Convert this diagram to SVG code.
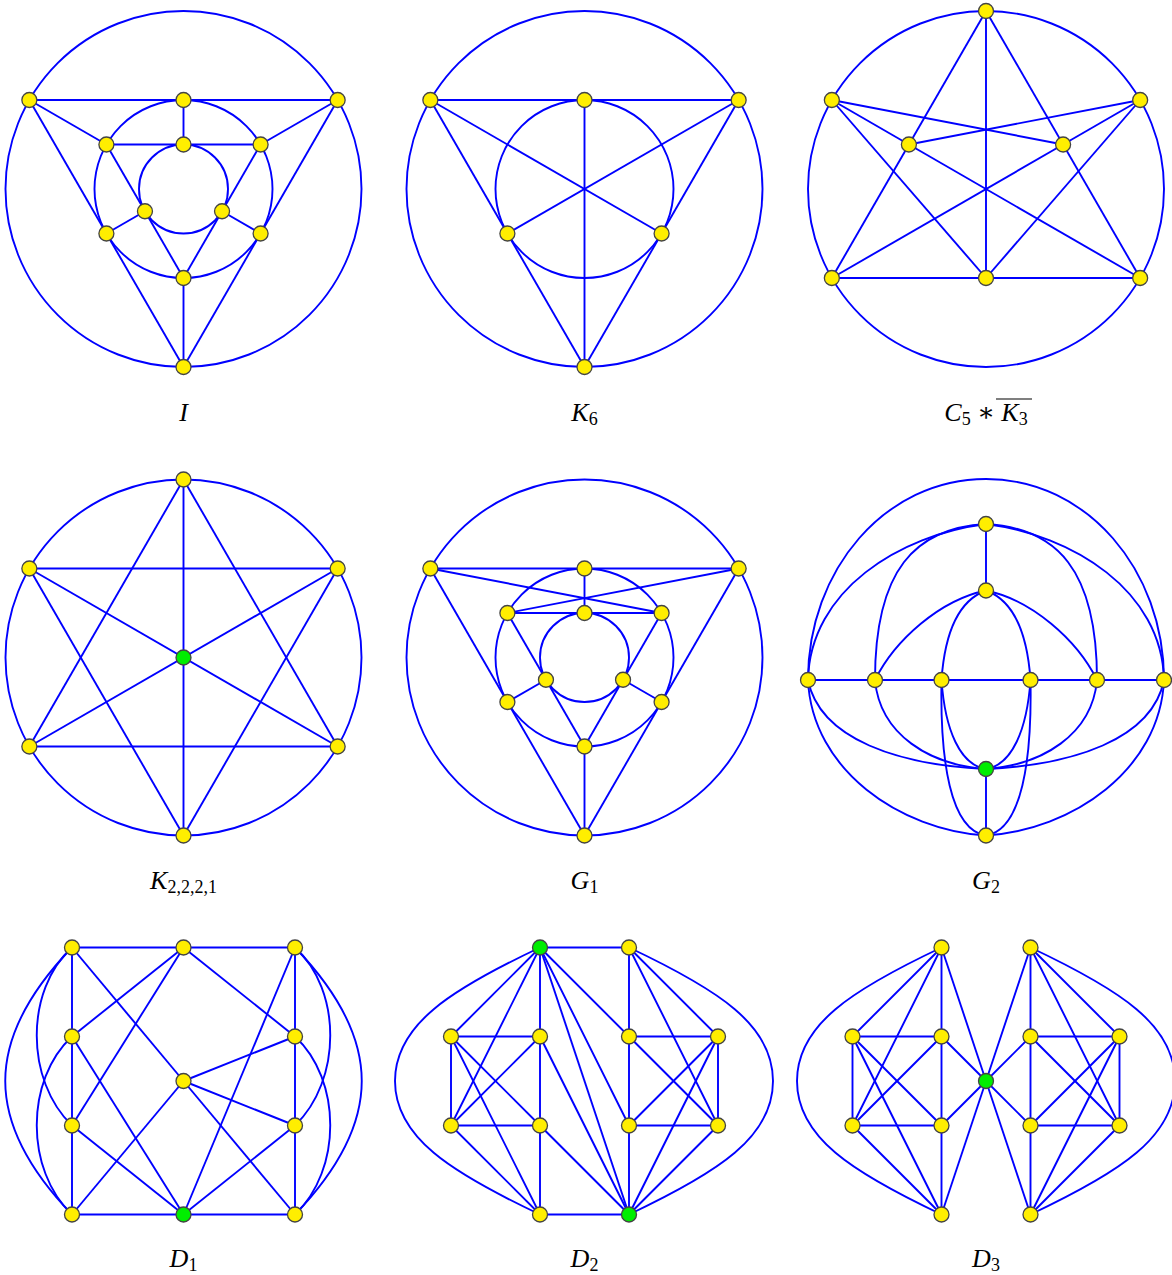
<svg xmlns="http://www.w3.org/2000/svg" width="1172" height="1275" viewBox="0 0 1172 1275">
<style>
.e{fill:none;stroke:#0000ff;stroke-width:1.9}
.n{fill:#ffee00;stroke:#444;stroke-width:1.3}
.g{fill:#00ee00;stroke:#444;stroke-width:1.3}
.lbl{font-family:"Liberation Serif","DejaVu Serif",serif;font-size:26px;fill:#000}
.it{font-style:italic}
.sub{font-size:18px}
</style>
<rect width="1172" height="1275" fill="#fff"/>

<!-- Graph I -->
<g id="graph-I">
<g id="edges-I" class="e">
<circle cx="183.5" cy="189" r="178"/>
<circle cx="183.5" cy="189" r="89"/>
<circle cx="183.5" cy="189" r="44.5"/>
<path d="M29.35,100H337.65"/>
<path d="M29.35,100L106.4,144.5"/>
<path d="M29.35,100L106.4,233.5"/>
<path d="M337.65,100L260.6,144.5"/>
<path d="M337.65,100L260.6,233.5"/>
<path d="M183.5,367L106.4,233.5"/>
<path d="M183.5,367V278"/>
<path d="M183.5,367L260.6,233.5"/>
<path d="M183.5,100V144.5"/>
<path d="M106.4,144.5H260.6"/>
<path d="M106.4,144.5L144.96,211.25"/>
<path d="M260.6,144.5L222.04,211.25"/>
<path d="M106.4,233.5L144.96,211.25"/>
<path d="M260.6,233.5L222.04,211.25"/>
<path d="M144.96,211.25L183.5,278"/>
<path d="M222.04,211.25L183.5,278"/>
</g>
<g id="I-o1"><circle class="n" cx="29.35" cy="100" r="7.5"/></g>
<g id="I-o2"><circle class="n" cx="337.65" cy="100" r="7.5"/></g>
<g id="I-o3"><circle class="n" cx="183.5" cy="367" r="7.5"/></g>
<g id="I-m1"><circle class="n" cx="183.5" cy="100" r="7.5"/></g>
<g id="I-m2"><circle class="n" cx="106.4" cy="144.5" r="7.5"/></g>
<g id="I-m3"><circle class="n" cx="260.6" cy="144.5" r="7.5"/></g>
<g id="I-m4"><circle class="n" cx="106.4" cy="233.5" r="7.5"/></g>
<g id="I-m5"><circle class="n" cx="260.6" cy="233.5" r="7.5"/></g>
<g id="I-m6"><circle class="n" cx="183.5" cy="278" r="7.5"/></g>
<g id="I-i1"><circle class="n" cx="183.5" cy="144.5" r="7.5"/></g>
<g id="I-i2"><circle class="n" cx="144.96" cy="211.25" r="7.5"/></g>
<g id="I-i3"><circle class="n" cx="222.04" cy="211.25" r="7.5"/></g>
<text class="lbl" x="183.5" y="421" text-anchor="middle"><tspan class="it">I</tspan></text>
</g>

<!-- Graph K6 -->
<g id="graph-K6">
<g id="edges-K6" class="e">
<circle cx="584.5" cy="189" r="178"/>
<circle cx="584.5" cy="189" r="89"/>
<path d="M430.35,100H738.65"/>
<path d="M430.35,100L507.4,233.5"/>
<path d="M430.35,100L661.6,233.5"/>
<path d="M738.65,100L507.4,233.5"/>
<path d="M738.65,100L661.6,233.5"/>
<path d="M584.5,100V367"/>
<path d="M584.5,367L507.4,233.5"/>
<path d="M584.5,367L661.6,233.5"/>
</g>
<g id="K6-1"><circle class="n" cx="430.35" cy="100" r="7.5"/></g>
<g id="K6-2"><circle class="n" cx="584.5" cy="100" r="7.5"/></g>
<g id="K6-3"><circle class="n" cx="738.65" cy="100" r="7.5"/></g>
<g id="K6-4"><circle class="n" cx="507.4" cy="233.5" r="7.5"/></g>
<g id="K6-5"><circle class="n" cx="661.6" cy="233.5" r="7.5"/></g>
<g id="K6-6"><circle class="n" cx="584.5" cy="367" r="7.5"/></g>
<text class="lbl" x="584.5" y="421" text-anchor="middle"><tspan class="it">K</tspan><tspan class="sub" dy="4">6</tspan></text>
</g>

<!-- Graph C5*K3 -->
<g id="graph-C5K3">
<g id="edges-C5K3" class="e">
<circle cx="986" cy="189" r="178"/>
<path d="M986,11L831.85,278"/>
<path d="M986,11L1140.15,278"/>
<path d="M986,11V278"/>
<path d="M831.85,100L1063.1,144.5"/>
<path d="M831.85,100L908.9,144.5"/>
<path d="M831.85,100L986,278"/>
<path d="M1140.15,100L908.9,144.5"/>
<path d="M1140.15,100L1063.1,144.5"/>
<path d="M1140.15,100L986,278"/>
<path d="M908.9,144.5L1140.15,278"/>
<path d="M1063.1,144.5L831.85,278"/>
<path d="M831.85,278H1140.15"/>
</g>
<g id="C-1"><circle class="n" cx="986" cy="11" r="7.5"/></g>
<g id="C-2"><circle class="n" cx="831.85" cy="100" r="7.5"/></g>
<g id="C-3"><circle class="n" cx="1140.15" cy="100" r="7.5"/></g>
<g id="C-4"><circle class="n" cx="908.9" cy="144.5" r="7.5"/></g>
<g id="C-5"><circle class="n" cx="1063.1" cy="144.5" r="7.5"/></g>
<g id="C-6"><circle class="n" cx="831.85" cy="278" r="7.5"/></g>
<g id="C-7"><circle class="n" cx="986" cy="278" r="7.5"/></g>
<g id="C-8"><circle class="n" cx="1140.15" cy="278" r="7.5"/></g>
<text class="lbl" x="986" y="421" text-anchor="middle"><tspan class="it">C</tspan><tspan class="sub" dy="4">5</tspan><tspan dy="-4"> ∗ </tspan><tspan class="it">K</tspan><tspan class="sub" dy="4">3</tspan></text>
<path d="M996,399H1032" stroke="#000" stroke-width="1.1"/>
</g>

<!-- Graph K2,2,2,1 -->
<g id="graph-K2221">
<g id="edges-K2221" class="e">
<circle cx="183.5" cy="657.5" r="178"/>
<path d="M183.5,479.5V835.5"/>
<path d="M29.35,568.5H337.65"/>
<path d="M29.35,746.5H337.65"/>
<path d="M183.5,479.5L29.35,746.5"/>
<path d="M183.5,479.5L337.65,746.5"/>
<path d="M183.5,835.5L29.35,568.5"/>
<path d="M183.5,835.5L337.65,568.5"/>
<path d="M29.35,568.5L337.65,746.5"/>
<path d="M337.65,568.5L29.35,746.5"/>
</g>
<g id="K-1"><circle class="n" cx="183.5" cy="479.5" r="7.5"/></g>
<g id="K-2"><circle class="n" cx="29.35" cy="568.5" r="7.5"/></g>
<g id="K-3"><circle class="n" cx="337.65" cy="568.5" r="7.5"/></g>
<g id="K-4"><circle class="n" cx="29.35" cy="746.5" r="7.5"/></g>
<g id="K-5"><circle class="n" cx="337.65" cy="746.5" r="7.5"/></g>
<g id="K-6"><circle class="n" cx="183.5" cy="835.5" r="7.5"/></g>
<g id="K-7"><circle class="g" cx="183.5" cy="657.5" r="7.5"/></g>
<text class="lbl" x="183.5" y="889" text-anchor="middle"><tspan class="it">K</tspan><tspan class="sub" dy="4">2,2,2,1</tspan></text>
</g>

<!-- Graph G1 -->
<g id="graph-G1">
<g id="edges-G1" class="e">
<circle cx="584.5" cy="657.5" r="178"/>
<circle cx="584.5" cy="657.5" r="89"/>
<circle cx="584.5" cy="657.5" r="44.5"/>
<path d="M430.35,568.5H738.65"/>
<path d="M430.35,568.5L661.6,613"/>
<path d="M738.65,568.5L507.4,613"/>
<path d="M584.5,568.5V613"/>
<path d="M507.4,613H661.6"/>
<path d="M430.35,568.5L507.4,702"/>
<path d="M738.65,568.5L661.6,702"/>
<path d="M584.5,835.5L507.4,702"/>
<path d="M584.5,835.5V746.5"/>
<path d="M584.5,835.5L661.6,702"/>
<path d="M507.4,613L545.96,679.75"/>
<path d="M661.6,613L623.04,679.75"/>
<path d="M507.4,702L545.96,679.75"/>
<path d="M661.6,702L623.04,679.75"/>
<path d="M545.96,679.75L584.5,746.5"/>
<path d="M623.04,679.75L584.5,746.5"/>
</g>
<g id="G1-o1"><circle class="n" cx="430.35" cy="568.5" r="7.5"/></g>
<g id="G1-o2"><circle class="n" cx="738.65" cy="568.5" r="7.5"/></g>
<g id="G1-o3"><circle class="n" cx="584.5" cy="835.5" r="7.5"/></g>
<g id="G1-m1"><circle class="n" cx="584.5" cy="568.5" r="7.5"/></g>
<g id="G1-m2"><circle class="n" cx="507.4" cy="613" r="7.5"/></g>
<g id="G1-m3"><circle class="n" cx="661.6" cy="613" r="7.5"/></g>
<g id="G1-m4"><circle class="n" cx="507.4" cy="702" r="7.5"/></g>
<g id="G1-m5"><circle class="n" cx="661.6" cy="702" r="7.5"/></g>
<g id="G1-m6"><circle class="n" cx="584.5" cy="746.5" r="7.5"/></g>
<g id="G1-i1"><circle class="n" cx="584.5" cy="613" r="7.5"/></g>
<g id="G1-i2"><circle class="n" cx="545.96" cy="679.75" r="7.5"/></g>
<g id="G1-i3"><circle class="n" cx="623.04" cy="679.75" r="7.5"/></g>
<text class="lbl" x="584.5" y="889" text-anchor="middle"><tspan class="it">G</tspan><tspan class="sub" dy="4">1</tspan></text>
</g>

<!-- Graph G2 -->
<g id="graph-G2">
<g id="edges-G2" class="e">
<path d="M808,680H1164"/>
<path d="M986,524V590.5"/>
<path d="M986,769V835.5"/>
<path d="M808,680C808,570 885,479 986,479C1087,479 1164,570 1164,680"/>
<path d="M986,524C900,535 810,590 808,680"/>
<path d="M986,524C1072,535 1162,590 1164,680"/>
<path d="M986,524C915,528 875,570 875,680"/>
<path d="M986,524C1057,528 1097,570 1097,680"/>
<path d="M986,590.5C940,600 895,640 875,680"/>
<path d="M986,590.5C1032,600 1077,640 1097,680"/>
<path d="M986,590.5C960,600 945,630 941.5,680"/>
<path d="M986,590.5C1012,600 1027,630 1030.5,680"/>
<path d="M986,769C900,765 820,740 808,680"/>
<path d="M986,769C1072,765 1152,740 1164,680"/>
<path d="M986,769C930,765 880,735 875,680"/>
<path d="M986,769C1042,765 1092,735 1097,680"/>
<path d="M986,769C960,765 945,730 941.5,680"/>
<path d="M986,769C1012,765 1027,730 1030.5,680"/>
<path d="M986,835.5C900,830 812,770 808,680"/>
<path d="M986,835.5C1072,830 1160,770 1164,680"/>
<path d="M986,835.5C950,830 940,760 941.5,680"/>
<path d="M986,835.5C1022,830 1032,760 1030.5,680"/>
</g>
<g id="G2-t"><circle class="n" cx="986" cy="524" r="7.5"/></g>
<g id="G2-u"><circle class="n" cx="986" cy="590.5" r="7.5"/></g>
<g id="G2-h1"><circle class="n" cx="808" cy="680" r="7.5"/></g>
<g id="G2-h2"><circle class="n" cx="875" cy="680" r="7.5"/></g>
<g id="G2-h3"><circle class="n" cx="941.5" cy="680" r="7.5"/></g>
<g id="G2-h4"><circle class="n" cx="1030.5" cy="680" r="7.5"/></g>
<g id="G2-h5"><circle class="n" cx="1097" cy="680" r="7.5"/></g>
<g id="G2-h6"><circle class="n" cx="1164" cy="680" r="7.5"/></g>
<g id="G2-g"><circle class="g" cx="986" cy="769" r="7.5"/></g>
<g id="G2-b"><circle class="n" cx="986" cy="835.5" r="7.5"/></g>
<text class="lbl" x="986" y="889" text-anchor="middle"><tspan class="it">G</tspan><tspan class="sub" dy="4">2</tspan></text>
</g>

<!-- Graph D1 -->
<g id="graph-D1">
<g id="edges-D1" class="e">
<path d="M72,947.5H295"/>
<path d="M72,1214.5H295"/>
<path d="M72,947.5V1214.5"/>
<path d="M295,947.5V1214.5"/>
<path d="M72,947.5L183.5,1081"/>
<path d="M183.5,947.5L72,1036.5"/>
<path d="M183.5,947.5L72,1125.5"/>
<path d="M183.5,947.5L295,1036.5"/>
<path d="M295,947.5L183.5,1214.5"/>
<path d="M72,1036.5L183.5,1214.5"/>
<path d="M72,1125.5L183.5,1214.5"/>
<path d="M183.5,1081L295,1036.5"/>
<path d="M183.5,1081L295,1125.5"/>
<path d="M183.5,1081L72,1214.5"/>
<path d="M183.5,1081L295,1214.5"/>
<path d="M295,1125.5L183.5,1214.5"/>
<path d="M72,947.5C-17,1040 -17,1122 72,1214.5"/>
<path d="M72,947.5C25,990 25,1080 72,1125.5"/>
<path d="M72,1036.5C25,1080 25,1170 72,1214.5"/>
<path d="M295,947.5C384,1040 384,1122 295,1214.5"/>
<path d="M295,947.5C342,990 342,1080 295,1125.5"/>
<path d="M295,1036.5C342,1080 342,1170 295,1214.5"/>
</g>
<g id="D1-a1"><circle class="n" cx="72" cy="947.5" r="7.5"/></g>
<g id="D1-a2"><circle class="n" cx="183.5" cy="947.5" r="7.5"/></g>
<g id="D1-a3"><circle class="n" cx="295" cy="947.5" r="7.5"/></g>
<g id="D1-b1"><circle class="n" cx="72" cy="1036.5" r="7.5"/></g>
<g id="D1-b3"><circle class="n" cx="295" cy="1036.5" r="7.5"/></g>
<g id="D1-c"><circle class="n" cx="183.5" cy="1081" r="7.5"/></g>
<g id="D1-d1"><circle class="n" cx="72" cy="1125.5" r="7.5"/></g>
<g id="D1-d3"><circle class="n" cx="295" cy="1125.5" r="7.5"/></g>
<g id="D1-e1"><circle class="n" cx="72" cy="1214.5" r="7.5"/></g>
<g id="D1-e2"><circle class="g" cx="183.5" cy="1214.5" r="7.5"/></g>
<g id="D1-e3"><circle class="n" cx="295" cy="1214.5" r="7.5"/></g>
<text class="lbl" x="183.5" y="1267" text-anchor="middle"><tspan class="it">D</tspan><tspan class="sub" dy="4">1</tspan></text>
</g>

<!-- Graph D2 -->
<g id="graph-D2">
<g id="edges-D2" class="e">
<path d="M540,947.5H629"/>
<path d="M540,1214.5H629"/>
<path d="M540,947.5V1214.5"/>
<path d="M629,947.5V1214.5"/>
<path d="M451,1036.5H540"/>
<path d="M451,1125.5H540"/>
<path d="M451,1036.5V1125.5"/>
<path d="M451,1036.5L540,1125.5"/>
<path d="M540,1036.5L451,1125.5"/>
<path d="M629,1036.5H718"/>
<path d="M629,1125.5H718"/>
<path d="M718,1036.5V1125.5"/>
<path d="M629,1036.5L718,1125.5"/>
<path d="M718,1036.5L629,1125.5"/>
<path d="M540,947.5L451,1036.5"/>
<path d="M540,947.5L451,1125.5"/>
<path d="M540,947.5L629,1036.5"/>
<path d="M540,947.5L629,1125.5"/>
<path d="M540,947.5L629,1214.5"/>
<path d="M540,1036.5L629,1214.5"/>
<path d="M540,1125.5L629,1214.5"/>
<path d="M629,947.5L718,1036.5"/>
<path d="M629,947.5L718,1125.5"/>
<path d="M629,1214.5L718,1036.5"/>
<path d="M629,1214.5L718,1125.5"/>
<path d="M540,1214.5L451,1125.5"/>
<path d="M540,1214.5L451,1036.5"/>
<path d="M540,947.5C450,990 395,1025 395,1081C395,1137 450,1172 540,1214.5"/>
<path d="M629,947.5C719,990 773,1025 773,1081C773,1137 719,1172 629,1214.5"/>
</g>
<g id="D2-t1"><circle class="g" cx="540" cy="947.5" r="7.5"/></g>
<g id="D2-t2"><circle class="n" cx="629" cy="947.5" r="7.5"/></g>
<g id="D2-l1"><circle class="n" cx="451" cy="1036.5" r="7.5"/></g>
<g id="D2-l2"><circle class="n" cx="540" cy="1036.5" r="7.5"/></g>
<g id="D2-r1"><circle class="n" cx="629" cy="1036.5" r="7.5"/></g>
<g id="D2-r2"><circle class="n" cx="718" cy="1036.5" r="7.5"/></g>
<g id="D2-l3"><circle class="n" cx="451" cy="1125.5" r="7.5"/></g>
<g id="D2-l4"><circle class="n" cx="540" cy="1125.5" r="7.5"/></g>
<g id="D2-r3"><circle class="n" cx="629" cy="1125.5" r="7.5"/></g>
<g id="D2-r4"><circle class="n" cx="718" cy="1125.5" r="7.5"/></g>
<g id="D2-b1"><circle class="n" cx="540" cy="1214.5" r="7.5"/></g>
<g id="D2-b2"><circle class="g" cx="629" cy="1214.5" r="7.5"/></g>
<text class="lbl" x="584.5" y="1267" text-anchor="middle"><tspan class="it">D</tspan><tspan class="sub" dy="4">2</tspan></text>
</g>

<!-- Graph D3 -->
<g id="graph-D3">
<g id="edges-D3" class="e">
<path d="M941.5,947.5V1214.5"/>
<path d="M1030.5,947.5V1214.5"/>
<path d="M852.5,1036.5H941.5"/>
<path d="M852.5,1125.5H941.5"/>
<path d="M852.5,1036.5V1125.5"/>
<path d="M852.5,1036.5L941.5,1125.5"/>
<path d="M941.5,1036.5L852.5,1125.5"/>
<path d="M1030.5,1036.5H1119.5"/>
<path d="M1030.5,1125.5H1119.5"/>
<path d="M1119.5,1036.5V1125.5"/>
<path d="M1030.5,1036.5L1119.5,1125.5"/>
<path d="M1119.5,1036.5L1030.5,1125.5"/>
<path d="M941.5,947.5L852.5,1036.5"/>
<path d="M941.5,947.5L852.5,1125.5"/>
<path d="M941.5,947.5L986,1081"/>
<path d="M941.5,1214.5L852.5,1125.5"/>
<path d="M941.5,1214.5L852.5,1036.5"/>
<path d="M941.5,1214.5L986,1081"/>
<path d="M941.5,1036.5L986,1081"/>
<path d="M941.5,1125.5L986,1081"/>
<path d="M1030.5,947.5L1119.5,1036.5"/>
<path d="M1030.5,947.5L1119.5,1125.5"/>
<path d="M1030.5,947.5L986,1081"/>
<path d="M1030.5,1214.5L1119.5,1125.5"/>
<path d="M1030.5,1214.5L1119.5,1036.5"/>
<path d="M1030.5,1214.5L986,1081"/>
<path d="M1030.5,1036.5L986,1081"/>
<path d="M1030.5,1125.5L986,1081"/>
<path d="M941.5,947.5C851.5,990 797,1025 797,1081C797,1137 851.5,1172 941.5,1214.5"/>
<path d="M1030.5,947.5C1120.5,990 1175,1025 1175,1081C1175,1137 1120.5,1172 1030.5,1214.5"/>
</g>
<g id="D3-t1"><circle class="n" cx="941.5" cy="947.5" r="7.5"/></g>
<g id="D3-t2"><circle class="n" cx="1030.5" cy="947.5" r="7.5"/></g>
<g id="D3-l1"><circle class="n" cx="852.5" cy="1036.5" r="7.5"/></g>
<g id="D3-l2"><circle class="n" cx="941.5" cy="1036.5" r="7.5"/></g>
<g id="D3-r1"><circle class="n" cx="1030.5" cy="1036.5" r="7.5"/></g>
<g id="D3-r2"><circle class="n" cx="1119.5" cy="1036.5" r="7.5"/></g>
<g id="D3-g"><circle class="g" cx="986" cy="1081" r="7.5"/></g>
<g id="D3-l3"><circle class="n" cx="852.5" cy="1125.5" r="7.5"/></g>
<g id="D3-l4"><circle class="n" cx="941.5" cy="1125.5" r="7.5"/></g>
<g id="D3-r3"><circle class="n" cx="1030.5" cy="1125.5" r="7.5"/></g>
<g id="D3-r4"><circle class="n" cx="1119.5" cy="1125.5" r="7.5"/></g>
<g id="D3-b1"><circle class="n" cx="941.5" cy="1214.5" r="7.5"/></g>
<g id="D3-b2"><circle class="n" cx="1030.5" cy="1214.5" r="7.5"/></g>
<text class="lbl" x="986" y="1267" text-anchor="middle"><tspan class="it">D</tspan><tspan class="sub" dy="4">3</tspan></text>
</g>
</svg>
